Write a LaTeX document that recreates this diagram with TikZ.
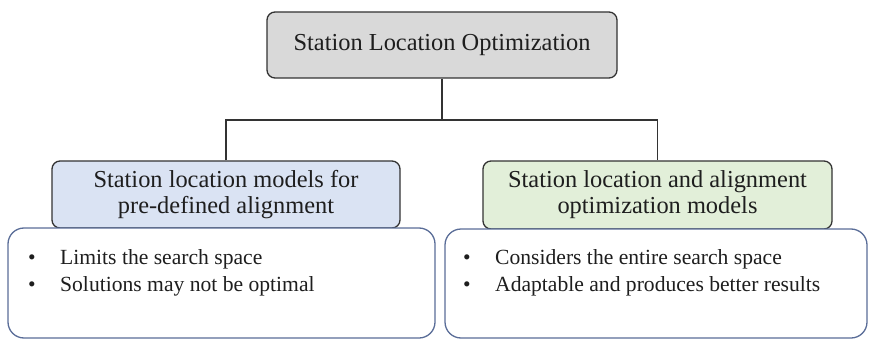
\documentclass[tikz,border=0pt]{standalone}
\usepackage{fontspec}
\setmainfont{Liberation Serif}
\definecolor{topfill}{HTML}{D9D9D9}
\definecolor{bluefill}{HTML}{DAE3F3}
\definecolor{greenfill}{HTML}{E2EFD9}
\definecolor{edgedark}{HTML}{333333}
\definecolor{edgeblue}{HTML}{5A6D98}
\definecolor{txt}{HTML}{1E1E1E}
\tikzset{
  headbox/.style={draw=edgedark, line width=1.3pt, rounded corners=8pt, inner sep=0pt,
    align=center, text=txt, font=\fontsize{24.4}{26}\selectfont},
  bodybox/.style={draw=edgeblue, line width=1.3pt, rounded corners=16pt, fill=white, inner sep=0pt},
  bullets/.style={anchor=west, align=left, inner sep=0pt, text=txt, font=\fontsize{21.6}{27}\selectfont},
  link/.style={draw=edgedark, line width=1.3pt}
}
\newcommand{\bitem}[1]{\makebox[32pt][l]{\textbullet}#1}
\begin{document}
\begin{tikzpicture}[x=1pt,y=-1pt]
\useasboundingbox (0,0) rectangle (869,342);
\node[headbox, fill=topfill, minimum width=350pt, minimum height=66pt] (top) at (442,45) {Station Location Optimization};
\node[headbox, fill=bluefill, minimum width=348pt, minimum height=67pt] (lh) at (226,194.5) {Station location models for\\pre-defined alignment};
\node[headbox, fill=greenfill, minimum width=349pt, minimum height=68pt] (rh) at (657.5,195) {Station location and alignment\\optimization models};
\node[bodybox, minimum width=427pt, minimum height=110pt] (lb) at (221.5,283) {};
\node[bodybox, minimum width=422pt, minimum height=109pt] (rb) at (656,283.5) {};
\node[bullets] (lt) at (28,273) {\bitem{Limits the search space}\\\bitem{Solutions may not be optimal}};
\node[bullets] (rt) at (463,273) {\bitem{Considers the entire search space}\\\bitem{Adaptable and produces better results}};
\coordinate (j) at (442,120);
\draw[link] (top.south) -- (j);
\draw[link] (lh.north) |- (j) -| (rh.north);
\end{tikzpicture}
\end{document}
